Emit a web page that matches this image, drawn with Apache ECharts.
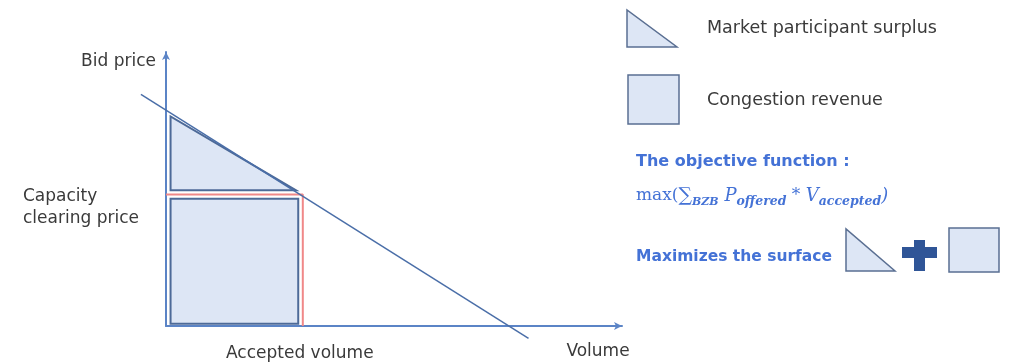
<!DOCTYPE html>
<html>
<head>
<meta charset="utf-8">
<script src="https://cdn.jsdelivr.net/npm/echarts@6/dist/echarts.min.js"></script>
<style>
  html, body { margin: 0; padding: 0; background: #fff; }
  #chart { width: 1012px; height: 362px; }
</style>
</head>
<body>
<div id="chart"></div>
<script>
// valores del diagrama (unidades del eje, 0..100)
var demandVolume = [-5.5, 79.5];
var demandPrice = [84.5, -4.5];
var acceptedVolume = 30;
var clearingPrice = 48;

// triangulo: excedente del participante
var surplusVolume = [1, 1, 28.5];
var surplusPrice = [76.5, 49.5, 49.5];

// rectangulo: ingreso por congestion
var revenueVolume = [1, 1, 29, 29];
var revenuePrice = [0.8, 46.4, 46.4, 0.8];

// textos de los ejes
var xLabels = ['Accepted volume'];
var yLabels = ['Capacity', 'clearing price'];

var axisBlue = '#5b84c6';
var shapeFill = '#dde6f5';
var shapeStroke = '#4d6a98';
var textGrey = '#3a3a3a';
var titleBlue = '#4472d6';
var font = 'DejaVu Sans';

function polygonSeries(xs, ys) {
    return {
        type: 'custom',
        coordinateSystem: 'cartesian2d',
        clip: false,
        silent: true,
        data: [0],
        renderItem: function (params, api) {
            return {
                type: 'polygon',
                shape: { points: xs.map(function (x, i) { return api.coord([x, ys[i]]); }) },
                style: { fill: shapeFill, stroke: shapeStroke, lineWidth: 2 }
            };
        }
    };
}

// recta de demanda (sale fuera de los ejes, por eso va como custom)
function demandSeries(xs, ys) {
    return {
        type: 'custom',
        coordinateSystem: 'cartesian2d',
        clip: false,
        silent: true,
        data: [0],
        z: 5,
        renderItem: function (params, api) {
            return {
                type: 'polyline',
                shape: { points: xs.map(function (x, i) { return api.coord([x, ys[i]]); }) },
                style: { fill: null, stroke: '#4a6ea8', lineWidth: 1.5 }
            };
        }
    };
}

var chart = echarts.init(document.getElementById('chart'));

chart.setOption({
    animation: false,
    grid: { left: 166, top: 52, width: 456, height: 274 },
    xAxis: {
        type: 'value', min: 0, max: 100,
        name: 'Volume', nameLocation: 'end', nameGap: -24,
        nameTextStyle: { fontFamily: font, fontSize: 17, color: textGrey, align: 'center', verticalAlign: 'top', padding: [17, 0, 0, 0] },
        axisLine: { lineStyle: { color: axisBlue, width: 2 }, symbol: ['none', 'arrow'], symbolSize: [6, 8] },
        axisTick: { show: false },
        splitLine: { show: false },
        axisLabel: {
            customValues: [acceptedVolume],
            formatter: function (v, i) { return xLabels[0]; },
            margin: 19, padding: [0, 6, 0, 0], fontFamily: font, fontSize: 17, color: textGrey
        }
    },
    yAxis: {
        type: 'value', min: 0, max: 100,
        name: 'Bid price', nameLocation: 'end', nameGap: -10,
        nameTextStyle: { fontFamily: font, fontSize: 17, color: textGrey, align: 'right', verticalAlign: 'middle', padding: [0, 10, 0, 0] },
        axisLine: { lineStyle: { color: axisBlue, width: 2 }, symbol: ['none', 'arrow'], symbolSize: [6, 8] },
        axisTick: { show: false },
        splitLine: { show: false },
        axisLabel: {
            customValues: [clearingPrice],
            formatter: function (v, i) { return '{pad| }\n{a|' + yLabels[0] + '}\n{a|' + yLabels[1] + '}'; },
            margin: 143, align: 'left', verticalAlign: 'middle',
            rich: {
                pad: { fontSize: 2, lineHeight: 26 },
                a: { fontFamily: font, fontSize: 17, color: textGrey, lineHeight: 22 }
            }
        }
    },
    series: [
        polygonSeries(surplusVolume, surplusPrice),
        polygonSeries(revenueVolume, revenuePrice),
        {
            type: 'line',
            data: [[0, clearingPrice], [acceptedVolume, clearingPrice], [acceptedVolume, 0]],
            symbol: 'none', silent: true,
            lineStyle: { color: '#f08888', width: 2 }
        },
        demandSeries(demandVolume, demandPrice)
    ],
    graphic: [
        { type: 'polygon', shape: { points: [[627, 10], [627, 47], [677, 47]] }, style: { fill: shapeFill, stroke: '#5a6f92', lineWidth: 1.5 } },
        { type: 'text', x: 707, y: 28, style: { text: 'Market participant surplus', font: '17.5px "DejaVu Sans"', fill: textGrey, verticalAlign: 'middle' } },
        { type: 'rect', shape: { x: 628, y: 75, width: 51, height: 49 }, style: { fill: shapeFill, stroke: '#5a6f92', lineWidth: 1.5 } },
        { type: 'text', x: 707, y: 100, style: { text: 'Congestion revenue', font: '17.5px "DejaVu Sans"', fill: textGrey, verticalAlign: 'middle' } },
        { type: 'text', x: 636, y: 162, style: { text: 'The objective function :', font: 'bold 16px "DejaVu Sans"', fill: titleBlue, verticalAlign: 'middle' } },
        {
            type: 'text', x: 636, y: 196,
            style: {
                text: '{m|max(}{g|∑}{s|BZB}{i| P}{si|offered}{m| * }{i|V}{si|accepted}{i|)}',
                fill: titleBlue, verticalAlign: 'middle',
                rich: {
                    m: { fontFamily: 'DejaVu Serif', fontSize: 17, color: titleBlue, lineHeight: 24, verticalAlign: 'middle' },
                    g: { fontFamily: 'DejaVu Serif', fontSize: 19, color: titleBlue, lineHeight: 24, verticalAlign: 'middle' },
                    i: { fontFamily: 'DejaVu Serif', fontStyle: 'italic', fontSize: 18, color: titleBlue, lineHeight: 24, verticalAlign: 'middle' },
                    s: { fontFamily: 'DejaVu Serif', fontStyle: 'italic', fontWeight: 'bold', fontSize: 11, color: titleBlue, lineHeight: 24, verticalAlign: 'bottom' },
                    si: { fontFamily: 'DejaVu Serif', fontStyle: 'italic', fontWeight: 'bold', fontSize: 12.5, color: titleBlue, lineHeight: 24, verticalAlign: 'bottom' }
                }
            }
        },
        { type: 'text', x: 636, y: 257, style: { text: 'Maximizes the surface', font: 'bold 15.5px "DejaVu Sans"', fill: titleBlue, verticalAlign: 'middle' } },
        { type: 'polygon', shape: { points: [[846, 229], [846, 271], [895, 271]] }, style: { fill: shapeFill, stroke: '#5a6f92', lineWidth: 1.5 } },
        { type: 'rect', shape: { x: 902, y: 247, width: 35, height: 11 }, style: { fill: '#2f5597' } },
        { type: 'rect', shape: { x: 914, y: 240, width: 11, height: 31 }, style: { fill: '#2f5597' } },
        { type: 'rect', shape: { x: 949, y: 228, width: 50, height: 44 }, style: { fill: shapeFill, stroke: '#5a6f92', lineWidth: 1.5 } }
    ]
});
</script>
</body>
</html>
